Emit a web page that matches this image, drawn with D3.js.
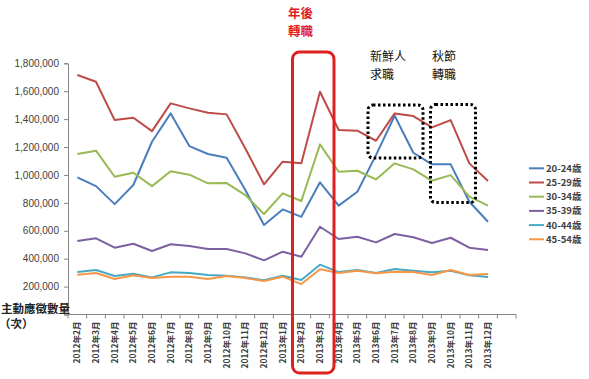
<!DOCTYPE html>
<html><head><meta charset="utf-8">
<script src="https://cdn.jsdelivr.net/npm/d3@7"></script>
<style>
body{margin:0;background:#fff;}
svg{display:block;}
</style></head>
<body>
<svg id="chart" width="589" height="379"></svg>
<script>
const categories = ["2012年2月","2012年3月","2012年4月","2012年5月","2012年6月","2012年7月","2012年8月","2012年9月","2012年10月","2012年11月","2012年12月","2013年1月","2013年2月","2013年3月","2013年4月","2013年5月","2013年6月","2013年7月","2013年8月","2013年9月","2013年10月","2013年11月","2013年12月",""];
const seriesNames = ["20-24歳","25-29歳","30-34歳","35-39歳","40-44歳","45-54歳"];
const seriesColors = ["#4A7EBB","#BE4B48","#98B954","#7D60A0","#46AAC5","#F79646"];
const age20_24 = [983000,920000,791000,928000,1238000,1441000,1207000,1150000,1123000,892000,641000,753000,700000,947000,780000,880000,1142000,1424000,1159000,1076000,1076000,808000,665000];
const age25_29 = [1716000,1668000,1393000,1410000,1314000,1513000,1477000,1446000,1434000,1190000,933000,1095000,1083000,1596000,1322000,1317000,1245000,1441000,1422000,1341000,1393000,1083000,956000];
const age30_34 = [1150000,1174000,987000,1016000,920000,1026000,1002000,940000,942000,856000,720000,868000,813000,1219000,1023000,1030000,968000,1083000,1040000,958000,999000,844000,780000];
const age35_39 = [527000,546000,479000,507000,455000,503000,491000,469000,469000,438000,388000,450000,414000,629000,541000,557000,517000,577000,553000,512000,550000,479000,462000];
const age40_44 = [304000,319000,276000,292000,266000,302000,297000,283000,278000,266000,245000,278000,247000,357000,304000,319000,297000,326000,314000,302000,314000,281000,269000];
const age45_54 = [285000,297000,254000,281000,261000,271000,271000,254000,276000,261000,240000,271000,218000,324000,297000,314000,295000,307000,304000,283000,319000,283000,290000];
const yTicks = [200000,400000,600000,800000,1000000,1200000,1400000,1600000,1800000];
const yAxisLabel = ["主動應徵數量","（次）"];
const noteRed = ["年後","轉職"];
const noteFresh = ["新鮮人","求職"];
const noteAutumn = ["秋節","轉職"];

const allSeries = [age20_24, age25_29, age30_34, age35_39, age40_44, age45_54];
const svg = d3.select("#chart");
const cjk = "'Noto Sans CJK TC','Noto Sans CJK SC',sans-serif";

const x = d3.scaleBand().domain(categories.map((c,i)=>i)).range([68,516]);
const y = d3.scaleLinear().domain([0,1800000]).range([314.5,63.3]);

// y axis
const yAxis = svg.append("g").attr("transform","translate(68,0)")
  .call(d3.axisLeft(y).tickValues([0].concat(yTicks)).tickSize(4).tickFormat(d=> d===0? "" : d3.format(",")(d)));
yAxis.select(".domain").attr("stroke","#868686");
yAxis.selectAll(".tick line").attr("stroke","#868686");
yAxis.selectAll("text").attr("font-family","'Liberation Sans',Arial,sans-serif").attr("font-size",10).attr("fill","#404040").attr("x",-9);

// x axis
const xg = svg.append("g").attr("transform","translate(0,314.5)");
xg.append("line").attr("x1",68).attr("x2",516).attr("y1",0).attr("y2",0).attr("stroke","#868686");
categories.forEach((c,i)=>{
  xg.append("line").attr("x1",x(i)+x.bandwidth()).attr("x2",x(i)+x.bandwidth()).attr("y1",0).attr("y2",4).attr("stroke","#868686");
});
xg.append("line").attr("x1",68).attr("x2",68).attr("y1",0).attr("y2",4).attr("stroke","#868686");
categories.forEach((c,i)=>{
  if(!c) return;
  xg.append("text").text(c)
    .attr("transform",`translate(${x(i)+x.bandwidth()/2+3},7) rotate(-90)`)
    .attr("text-anchor","end")
    .attr("font-family",cjk).attr("font-size",8.5).attr("font-weight","bold").attr("fill","#404040");
});

// lines
const line = d3.line().x((d,i)=>x(i)+x.bandwidth()/2).y(d=>y(d));
allSeries.forEach((s,k)=>{
  svg.append("path").datum(s).attr("d",line).attr("fill","none")
    .attr("stroke",seriesColors[k]).attr("stroke-width",2).attr("stroke-linejoin","round");
});

// y axis label
svg.append("text").text(yAxisLabel[0]).attr("x",1).attr("y",313).attr("font-family",cjk).attr("font-size",11.5).attr("font-weight","bold").attr("fill","#222");
svg.append("text").text(yAxisLabel[1]).attr("x",-1).attr("y",328).attr("font-family",cjk).attr("font-size",11.5).attr("font-weight","bold").attr("fill","#222");

// legend
const lg = svg.append("g");
seriesNames.forEach((n,k)=>{
  const yy = 168.3 + k*14.2;
  lg.append("line").attr("x1",529).attr("x2",544).attr("y1",yy).attr("y2",yy).attr("stroke",seriesColors[k]).attr("stroke-width",2);
  lg.append("text").text(n).attr("x",546).attr("y",yy+3.5).attr("font-family",cjk).attr("font-size",9.5).attr("font-weight","bold").attr("fill","#404040");
});

// annotations
svg.append("rect").attr("x",292.5).attr("y",52).attr("width",41.5).attr("height",321).attr("rx",7)
  .attr("fill","none").attr("stroke","#E0201F").attr("stroke-width",3);
noteRed.forEach((t,i)=>svg.append("text").text(t).attr("x",288).attr("y",18+i*18).attr("font-family",cjk).attr("font-size",12.5).attr("font-weight","bold").attr("fill","#E0201F"));
noteFresh.forEach((t,i)=>svg.append("text").text(t).attr("x",370).attr("y",61+i*17.5).attr("font-family",cjk).attr("font-size",12).attr("fill","#111"));
noteAutumn.forEach((t,i)=>svg.append("text").text(t).attr("x",432).attr("y",61+i*17.5).attr("font-family",cjk).attr("font-size",12).attr("fill","#111"));
svg.append("rect").attr("x",368).attr("y",105).attr("width",55).attr("height",53).attr("rx",5)
  .attr("fill","none").attr("stroke","#000").attr("stroke-width",3).attr("stroke-dasharray","2.5,2.5");
svg.append("rect").attr("x",430.5).attr("y",104.5).attr("width",45).attr("height",98).attr("rx",5)
  .attr("fill","none").attr("stroke","#000").attr("stroke-width",3).attr("stroke-dasharray","2.5,2.5");
</script>
</body></html>
